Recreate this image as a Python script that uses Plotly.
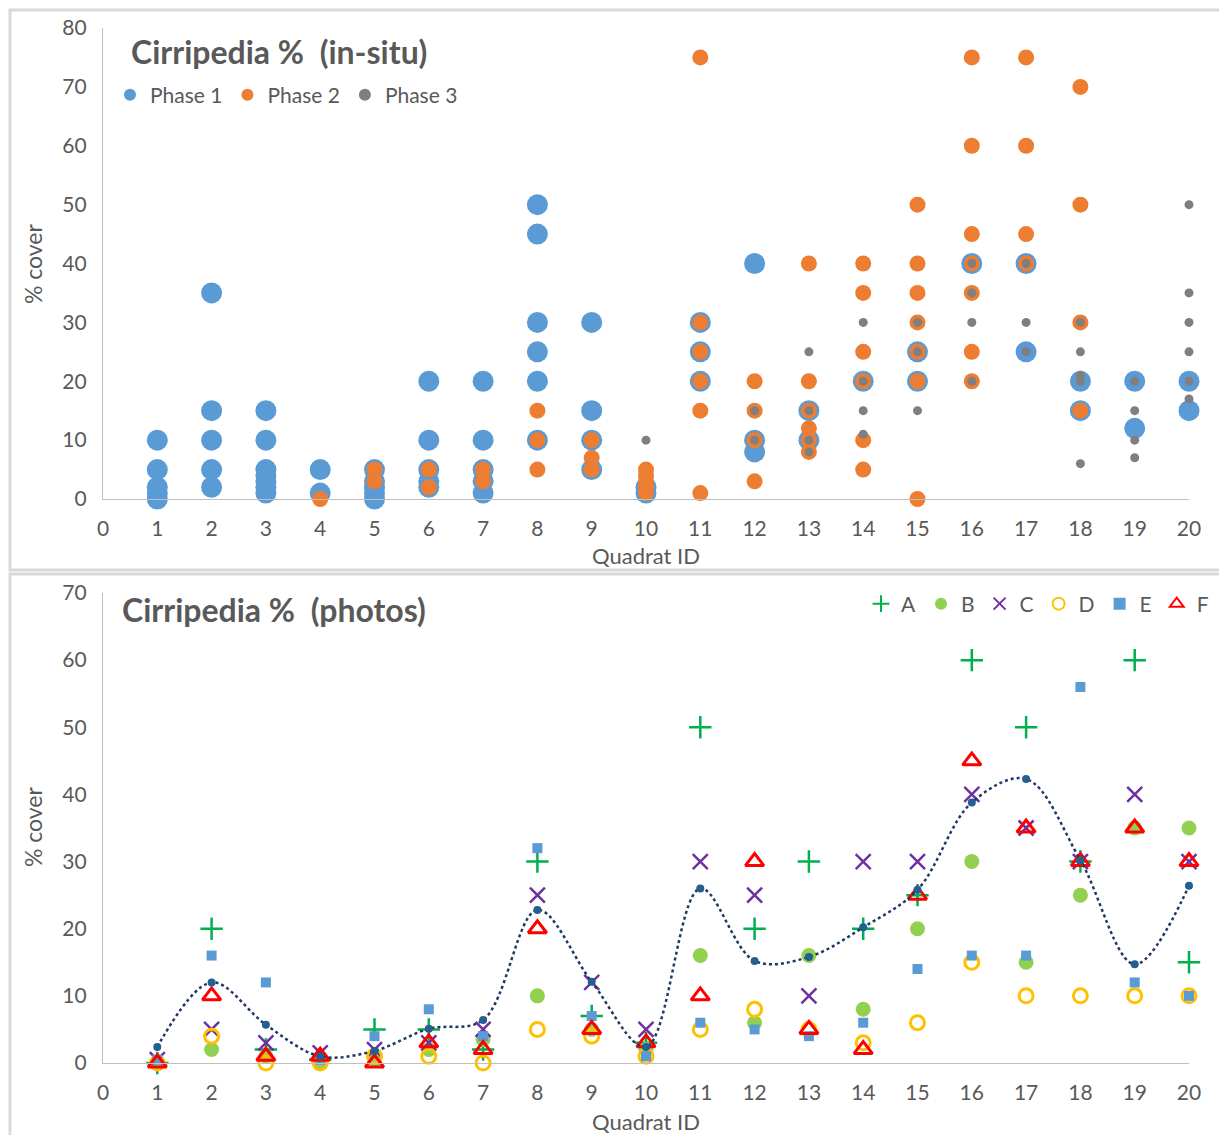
import plotly.graph_objects as go

# ---------------- data: in-situ (top) ----------------
phase1_q = [1,1,1,1,1, 2,2,2,2,2, 3,3,3,3,3,3,3, 4,4, 5,5,5,5,5, 6,6,6,6,6,
            7,7,7,7,7, 8,8,8,8,8,8, 9,9,9,9, 10,10, 11,11,11, 12,12,12, 13,13,
            14, 15,15, 16, 17,17, 18,18, 19,19, 20,20]
phase1_v = [10,5,2,1,0, 35,15,10,5,2, 15,10,5,4,3,2,1, 5,1, 5,3,2,1,0, 20,10,5,3,2,
            20,10,5,3,1, 50,45,30,25,20,10, 30,15,10,5, 2,1, 30,25,20, 40,10,8, 15,10,
            20, 25,20, 40, 40,25, 20,15, 20,12, 20,15]

phase2_q = [4, 5,5, 6,6, 7,7, 8,8,8, 9,9,9, 10,10,10,10,10, 11,11,11,11,11,11,
            12,12,12,12, 13,13,13,13,13,13, 14,14,14,14,14,14, 15,15,15,15,15,15,15,
            16,16,16,16,16,16,16, 17,17,17,17, 18,18,18,18]
phase2_v = [0, 5,3, 5,2, 5,3, 15,10,5, 10,7,5, 5,4,3,2,1, 75,30,25,20,15,1,
            20,15,10,3, 40,20,15,12,10,8, 40,35,25,20,10,5, 50,40,35,30,25,20,0,
            75,60,45,40,35,25,20, 75,60,45,40, 70,50,30,15]

phase3_q = [10, 12,12, 13,13,13,13, 14,14,14,14, 15,15,15, 16,16,16,16, 17,17,17,
            18,18,18,18,18, 19,19,19,19, 20,20,20,20,20,20]
phase3_v = [10, 15,10, 25,15,10,8, 30,20,15,11, 30,25,15, 40,35,30,20, 40,30,25,
            30,25,21,20,6, 20,15,10,7, 50,35,30,25,20,17]

# ---------------- data: photos (bottom) ----------------
quadrats = list(range(1, 21))
series_A = [0, 20, 2, 0.5, 5, 5, 2, 30, 7, 3, 50, 20, 30, 20, 25, 60, 50, 30, 60, 15]
series_B = [0, 2, 1, 0, 0.5, 2, 3.5, 10, 5, 2, 16, 6, 16, 8, 20, 30, 15, 25, 35, 35]
series_C = [0.5, 5, 3, 1.5, 2, 3, 5, 25, 12, 5, 30, 25, 10, 30, 30, 40, 35, 30, 40, 30]
series_D = [0, 4, 0, 0, 1, 1, 0, 5, 4, 1, 5, 8, 5, 3, 6, 15, 10, 10, 10, 10]
series_E = [0.5, 16, 12, 0.5, 4, 8, 4, 32, 7, 1, 6, 5, 4, 6, 14, 16, 16, 56, 12, 10]
series_F = [0, 10, 1, 1, 0, 3, 2, 20, 5, 3, 10, 30, 5, 2, 25, 45, 35, 30, 35, 30]
series_mean = [2.4, 12, 5.7, 1.0, 1.8, 5.1, 6.4, 22.8, 12.1, 2.4, 26, 15.2, 15.8, 20.2,
               25.8, 38.8, 42.3, 30.2, 14.7, 26.4]

x_ticks = list(range(0, 21))
top_y_ticks = list(range(0, 81, 10))
bot_y_ticks = list(range(0, 71, 10))

# ---------------- layout helpers ----------------
W, H = 1219, 1135
FONT = "Lato"
GREY_TXT = "#595959"
AXIS_COL = "#BFBFBF"


def px(x):
    return x / W


def py(y):
    return 1 - y / H


fig = go.Figure()

# top chart traces
fig.add_trace(go.Scatter(x=phase1_q, y=phase1_v, mode="markers", name="Phase 1",
                         marker=dict(color="#5B9BD5", size=21, line=dict(width=0)),
                         xaxis="x", yaxis="y", legend="legend", cliponaxis=False))
fig.add_trace(go.Scatter(x=phase2_q, y=phase2_v, mode="markers", name="Phase 2",
                         marker=dict(color="#ED7D31", size=16, line=dict(width=0)),
                         xaxis="x", yaxis="y", legend="legend", cliponaxis=False))
fig.add_trace(go.Scatter(x=phase3_q, y=phase3_v, mode="markers", name="Phase 3",
                         marker=dict(color="#7F7F7F", size=9, line=dict(width=0)),
                         xaxis="x", yaxis="y", legend="legend", cliponaxis=False))

# bottom chart traces
bottom_specs = [
    ("A", series_A, dict(symbol="cross-thin", size=16, color="#00B050",
                         line=dict(color="#00B050", width=2.5))),
    ("B", series_B, dict(symbol="circle", size=15, color="#92D050", line=dict(width=0))),
    ("C", series_C, dict(symbol="x-thin", size=15, color="#7030A0",
                         line=dict(color="#7030A0", width=2.5))),
    ("D", series_D, dict(symbol="circle-open", size=14, color="#FFC000",
                         line=dict(color="#FFC000", width=3))),
    ("E", series_E, dict(symbol="square", size=10, color="#5B9BD5", line=dict(width=0))),
    ("F", series_F, dict(symbol="triangle-up-open", size=16, color="#FF0000",
                         line=dict(color="#FF0000", width=3))),
]
for name, vals, mk in bottom_specs:
    fig.add_trace(go.Scatter(x=quadrats, y=vals, mode="markers", name=name, marker=mk,
                             xaxis="x2", yaxis="y2", legend="legend2", cliponaxis=False))

fig.add_trace(go.Scatter(x=quadrats, y=series_mean, mode="lines+markers", name="mean",
                         line=dict(color="#1F3864", width=2.5, dash="dot", shape="spline",
                                   smoothing=1.0),
                         marker=dict(color="#255E91", size=8),
                         showlegend=False, xaxis="x2", yaxis="y2", cliponaxis=False))

axis_common = dict(showgrid=False, zeroline=False, showline=True, linecolor=AXIS_COL,
                   linewidth=1.3, ticks="", automargin=False,
                   tickfont=dict(family=FONT, size=21, color=GREY_TXT),
                   ticklabelstandoff=11)

fig.update_layout(
    template="none",
    width=W, height=H,
    margin=dict(l=0, r=0, t=0, b=0, pad=0, autoexpand=False),
    paper_bgcolor="white", plot_bgcolor="white",
    font=dict(family=FONT, color=GREY_TXT),
    xaxis=dict(domain=[px(103), px(1189)], range=[0, 20], tickvals=x_ticks,
               anchor="y", **axis_common),
    yaxis=dict(domain=[py(499), py(28)], range=[0, 80], tickvals=top_y_ticks,
               anchor="x", **axis_common),
    xaxis2=dict(domain=[px(103), px(1189)], range=[0, 20], tickvals=x_ticks,
                anchor="y2", **axis_common),
    yaxis2=dict(domain=[py(1063), py(593)], range=[0, 70], tickvals=bot_y_ticks,
                anchor="x2", **axis_common),
    legend=dict(orientation="h", x=px(110), y=py(95), xanchor="left", yanchor="middle",
                bgcolor="rgba(0,0,0,0)", borderwidth=0, itemsizing="constant",
                font=dict(family=FONT, size=21, color=GREY_TXT)),
    legend2=dict(orientation="h", x=px(1214), y=py(604), xanchor="right", yanchor="middle",
                 bgcolor="rgba(0,0,0,0)", borderwidth=0, itemsizing="constant", itemwidth=30,
                 font=dict(family=FONT, size=21, color=GREY_TXT)),
    showlegend=True,
)

annotations = [
    dict(text="<b>Cirripedia %  (in-situ)</b>", x=px(129), y=py(52), xanchor="left",
         yanchor="middle", font=dict(family=FONT, size=32, color=GREY_TXT)),
    dict(text="<b>Cirripedia %  (photos)</b>", x=px(120), y=py(609), xanchor="left",
         yanchor="middle", font=dict(family=FONT, size=32, color=GREY_TXT)),
    dict(text="% cover", x=px(33), y=py(264), textangle=-90, xanchor="center",
         yanchor="middle", font=dict(family=FONT, size=23, color=GREY_TXT)),
    dict(text="% cover", x=px(33), y=py(827), textangle=-90, xanchor="center",
         yanchor="middle", font=dict(family=FONT, size=23, color=GREY_TXT)),
    dict(text="Quadrat ID", x=px(646), y=py(555), xanchor="center",
         yanchor="middle", font=dict(family=FONT, size=22, color=GREY_TXT)),
    dict(text="Quadrat ID", x=px(646), y=py(1121), xanchor="center",
         yanchor="middle", font=dict(family=FONT, size=22, color=GREY_TXT)),
]
for a in annotations:
    a.update(xref="paper", yref="paper", showarrow=False)
fig.update_layout(annotations=annotations)

border = dict(color="#D9D9D9", width=3)
fig.update_layout(shapes=[
    dict(type="rect", xref="paper", yref="paper", x0=px(10), x1=1.02, y0=py(570), y1=py(10),
         line=border, layer="below"),
    dict(type="rect", xref="paper", yref="paper", x0=px(10), x1=1.02, y0=-0.05, y1=py(574),
         line=border, layer="below"),
])

fig.write_html("out.html", config={"displayModeBar": False},
               post_script="document.body.style.margin='0';"
                           "document.documentElement.style.overflow='hidden';")
